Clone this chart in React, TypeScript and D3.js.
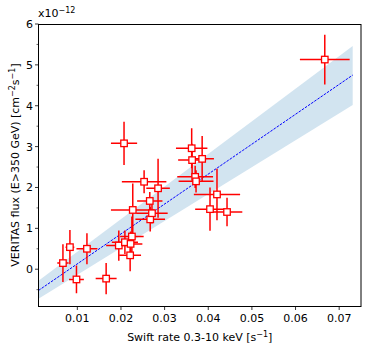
import React from 'react';
import * as d3 from 'd3';

// Swift rate (x) vs VERITAS flux (y, units of 1e-12)
const swiftRate = [0.0067, 0.0083, 0.0098, 0.0122, 0.0166, 0.0195, 0.0207, 0.0209, 0.0222, 0.0221, 0.0225, 0.0227, 0.0253, 0.0266, 0.0267, 0.0271, 0.0285, 0.0362, 0.0363, 0.0386, 0.037, 0.0372, 0.0404, 0.042, 0.0443, 0.0667];
const swiftErr = [0.0013, 0.001, 0.0017, 0.0024, 0.0024, 0.0029, 0.003, 0.003, 0.0027, 0.0025, 0.0027, 0.005, 0.0051, 0.0029, 0.0034, 0.0036, 0.0027, 0.0036, 0.0032, 0.0027, 0.0041, 0.004, 0.0034, 0.0053, 0.0035, 0.0057];
const veritasFlux = [0.15, 0.54, -0.25, 0.5, -0.23, 0.58, 3.08, 0.66, 0.62, 0.34, 0.8, 1.45, 2.14, 1.67, 1.22, 1.37, 1.98, 2.96, 2.67, 2.7, 2.26, 2.15, 1.47, 1.83, 1.4, 5.13];
const veritasErr = [0.46, 0.42, 0.34, 0.38, 0.38, 0.37, 0.53, 0.29, 0.3, 0.39, 0.49, 0.65, 0.28, 0.22, 0.3, 0.25, 0.72, 0.49, 0.4, 0.56, 0.27, 0.27, 0.53, 0.63, 0.35, 0.61];

// linear fit and its band, at the two ends of the fit range
const fitX = [0.0011, 0.0731];
const fitY = [-0.52, 4.75];
const bandLow = [-0.72, 4.02];
const bandHigh = [-0.28, 5.46];

const xTicks = [0.01, 0.02, 0.03, 0.04, 0.05, 0.06, 0.07];
const yTicks = [0, 1, 2, 3, 4, 5, 6];

const W = 374;
const H = 352;
const left = 38.5, right = 361, top = 24, bottom = 306;
const font = 'DejaVu Sans, sans-serif';

export default function App() {
  const x = d3.scaleLinear().domain([0.0011, 0.075]).range([left, right]);
  const y = d3.scaleLinear().domain([-0.9, 6]).range([bottom, top]);

  const band = d3
    .area<number>()
    .x((_, i) => x(fitX[i]))
    .y0((_, i) => y(bandLow[i]))
    .y1((_, i) => y(bandHigh[i]));
  const fitLine = d3
    .line<number>()
    .x((_, i) => x(fitX[i]))
    .y((d) => y(d));

  const yMinor = d3.range(-0.5, 6, 1);
  const ms = 6.5;

  return (
    <svg width={W} height={H} style={{ position: 'absolute', left: 0, top: 0 }} fontFamily={font}>
      <rect width={W} height={H} fill="#fff" />
      <defs>
        <clipPath id="plot">
          <rect x={left} y={top} width={right - left} height={bottom - top} />
        </clipPath>
      </defs>
      <g clipPath="url(#plot)">
        <path d={band(fitX) ?? ''} fill="#1f77b4" fillOpacity={0.2} />
        <path d={fitLine(fitY) ?? ''} fill="none" stroke="#0000ff" strokeWidth={1} strokeDasharray="2.6 1.2" />
        {swiftRate.map((d, i) => (
          <g key={'e' + i} stroke="#ff0000" strokeWidth={1.5}>
            <line x1={x(d - swiftErr[i])} x2={x(d + swiftErr[i])} y1={y(veritasFlux[i])} y2={y(veritasFlux[i])} />
            <line x1={x(d)} x2={x(d)} y1={y(veritasFlux[i] - veritasErr[i])} y2={y(veritasFlux[i] + veritasErr[i])} />
          </g>
        ))}
        {swiftRate.map((d, i) => (
          <rect
            key={'m' + i}
            x={x(d) - ms / 2}
            y={y(veritasFlux[i]) - ms / 2}
            width={ms}
            height={ms}
            fill="#fff"
            stroke="#ff0000"
            strokeWidth={1.3}
          />
        ))}
      </g>

      {/* frame */}
      <rect x={left} y={top + 0.5} width={right - left} height={bottom - top} fill="none" stroke="#000" strokeWidth={1} />

      {/* x axis */}
      {xTicks.map((t) => (
        <g key={'xt' + t}>
          <line x1={x(t)} x2={x(t)} y1={bottom + 0.5} y2={bottom + 4} stroke="#000" strokeWidth={0.8} />
          <text x={x(t)} y={bottom + 16} fontSize={11} textAnchor="middle">
            {t.toFixed(2)}
          </text>
        </g>
      ))}
      <text x={(left + right) / 2} y={bottom + 35} fontSize={11} textAnchor="middle">
        Swift rate 0.3-10 keV [s
        <tspan dy={-4} fontSize={8}>−1</tspan>
        <tspan dy={4}>]</tspan>
      </text>

      {/* y axis */}
      {yTicks.map((t) => (
        <g key={'yt' + t}>
          <line x1={left - 3.5} x2={left} y1={y(t)} y2={y(t)} stroke="#000" strokeWidth={0.8} />
          <text x={left - 5.5} y={y(t) + 4} fontSize={11} textAnchor="end">
            {t}
          </text>
        </g>
      ))}
      {yMinor.map((t) => (
        <line key={'ym' + t} x1={left - 2} x2={left} y1={y(t)} y2={y(t)} stroke="#000" strokeWidth={0.6} />
      ))}
      <text x={38} y={17} fontSize={11}>
        x10
        <tspan dy={-4} fontSize={8}>−12</tspan>
      </text>
      <text transform={`translate(19, ${(top + bottom) / 2}) rotate(-90)`} fontSize={11} textAnchor="middle">
        VERITAS flux (E&gt;350 GeV) [cm
        <tspan dy={-4} fontSize={8}>−2</tspan>
        <tspan dy={4}>s</tspan>
        <tspan dy={-4} fontSize={8}>−1</tspan>
        <tspan dy={4}>]</tspan>
      </text>
    </svg>
  );
}
